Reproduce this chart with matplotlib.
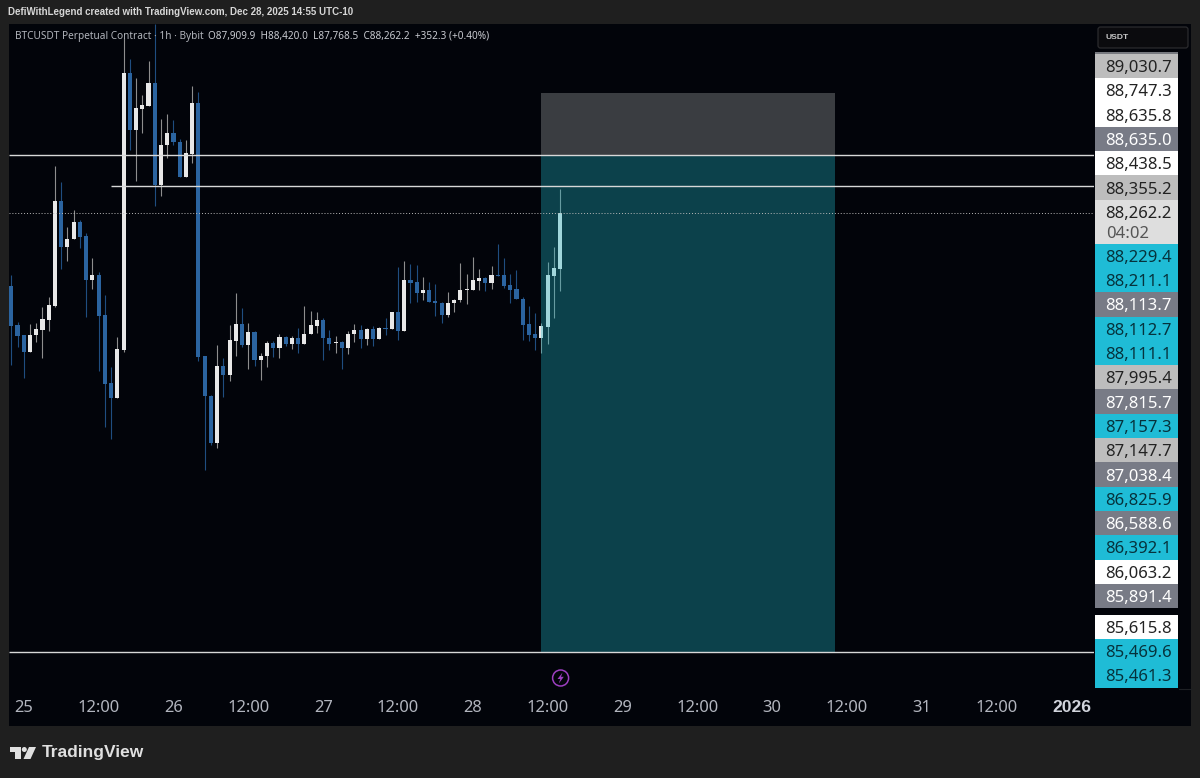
# BTCUSDT 1h chart with long position box and stacked price labels
import matplotlib
matplotlib.use("Agg")
import matplotlib.pyplot as plt
from matplotlib.patches import Circle, FancyBboxPatch, Polygon, Rectangle

WIDTH, HEIGHT = 1200, 778

# ---------------------------------------------------------------------------
# Data
# ---------------------------------------------------------------------------
opens = [87802, 87550, 87486, 87382, 87488, 87520, 87585, 87673, 88344, 88047,
         88098, 88210, 88119, 87838, 87868, 87614, 87182, 87085, 87392, 89155,
         88794, 88928, 88947, 89095, 88444, 88696, 88775, 88719, 88496, 88641,
         88968, 87354, 87101, 86802, 87292, 87233, 87452, 87556, 87424, 87507,
         87329, 87356, 87437, 87403, 87475, 87429, 87469, 87431, 87492, 87545,
         87582, 87471, 87437, 87443, 87405, 87492, 87520, 87463, 87526, 87463,
         87531, 87526, 87633, 87515, 87836, 87824, 87754, 87773, 87705, 87692,
         87614, 87690, 87709, 87775, 87775, 87834, 87853, 87819, 87872, 87872,
         87805, 87779, 87719, 87556, 87492, 87467, 87541, 87866, 87909.9]
highs = [87870, 87571, 87488, 87556, 87563, 87664, 87728, 88566, 88465, 88174,
         88284, 88221, 88140, 87977, 87891, 87743, 87286, 87473, 89380, 89246,
         89123, 89017, 89233, 89469, 88862, 88896, 88858, 88735, 88730, 89074,
         89038, 87354, 87106, 87424, 87340, 87552, 87754, 87658, 87563, 87514,
         87371, 87452, 87452, 87494, 87482, 87482, 87531, 87673, 87641, 87633,
         87594, 87520, 87484, 87450, 87514, 87560, 87552, 87535, 87545, 87541,
         87594, 87633, 87923, 87961, 87940, 87934, 87856, 87824, 87813, 87700,
         87764, 87715, 87949, 87877, 87983, 87908, 87859, 87928, 88068, 87977,
         87877, 87902, 87732, 87673, 87626, 87563, 87955, 88047, 88420.0]
lows = [87297, 87410, 87212, 87382, 87445, 87343, 87514, 87664, 87910, 87957,
        88098, 88040, 87605, 87779, 87261, 86904, 86824, 87085, 87382, 88667,
        88471, 88773, 88947, 88310, 88373, 88614, 88698, 88494, 88494, 88582,
        87324, 86628, 86787, 86770, 87091, 87197, 87356, 87410, 87273, 87291,
        87201, 87286, 87350, 87343, 87418, 87397, 87371, 87431, 87492, 87503,
        87329, 87392, 87375, 87271, 87367, 87445, 87407, 87424, 87418, 87463,
        87488, 87526, 87456, 87515, 87690, 87700, 87711, 87696, 87611, 87566,
        87605, 87636, 87700, 87686, 87775, 87775, 87770, 87779, 87866, 87786,
        87690, 87715, 87456, 87450, 87392, 87371, 87431, 87598, 87768.5]
closes = [87545, 87482, 87382, 87490, 87526, 87590, 87679, 88344, 88047, 88100,
          88210, 88110, 87838, 87868, 87609, 87178, 87085, 87397, 89155, 88794,
          88932, 88953, 89095, 88444, 88698, 88773, 88716, 88496, 88645, 88968,
          87350, 87101, 86802, 87292, 87233, 87456, 87556, 87424, 87507, 87329,
          87356, 87437, 87403, 87475, 87429, 87469, 87431, 87494, 87550, 87582,
          87467, 87431, 87443, 87405, 87496, 87520, 87463, 87528, 87463, 87533,
          87524, 87633, 87514, 87838, 87819, 87756, 87773, 87700, 87690, 87615,
          87694, 87711, 87773, 87781, 87836, 87853, 87819, 87872, 87866, 87798,
          87775, 87715, 87552, 87486, 87467, 87545, 87872, 87913, 88262.2]

tick_positions = [2, 14, 26, 38, 50, 62, 74, 86, 98, 110, 122, 134, 146, 158, 170]
tick_labels = ["25", "12:00", "26", "12:00", "27", "12:00", "28", "12:00",
               "29", "12:00", "30", "12:00", "31", "12:00", "2026"]

target_price = 89030.7
entry_price = 88635.0
level_price = 88438.5
last_price = 88262.2
stop_price = 85469.6
box_start, box_end = 85, 132
level_start = 16

scale_labels = ["89,030.7", "88,747.3", "88,635.8", "88,635.0", "88,438.5",
                "88,355.2", "88,262.2", "88,229.4", "88,211.1", "88,113.7",
                "88,112.7", "88,111.1", "87,995.4", "87,815.7", "87,157.3",
                "87,147.7", "87,038.4", "86,825.9", "86,588.6", "86,392.1",
                "86,063.2", "85,891.4", "85,615.8", "85,469.6", "85,461.3"]
scale_kinds = ["silver", "white", "white", "gray", "white",
               "silver", "light", "cyan", "cyan", "gray",
               "cyan", "cyan", "silver", "gray", "cyan",
               "silver", "gray", "cyan", "gray", "cyan",
               "white", "gray", "white", "cyan", "cyan"]

# ---------------------------------------------------------------------------
# Style
# ---------------------------------------------------------------------------
FRAME = "#1f1f1f"
PANE = "#02040a"
UP = "#e8e8e8"
UP_WICK = "#8e8e8e"
DOWN = "#2b64a0"
DOWN_WICK = "#1f4d80"
BOLD_FONT = "Liberation Sans"
LABEL_FILL = {"silver": "#bdbdbd", "white": "#ffffff", "gray": "#787b86",
              "light": "#dedede", "cyan": "#1fbcd6"}
LABEL_TEXT = {"silver": "#222222", "white": "#222222", "gray": "#ffffff",
              "light": "#222222", "cyan": "#06323c"}

plt.rcParams["font.family"] = ["Noto Sans", "DejaVu Sans"]


def px_axes(fig, left, top, right, bottom):
    return fig.add_axes([left / WIDTH, 1 - bottom / HEIGHT,
                         (right - left) / WIDTH, (bottom - top) / HEIGHT])


def draw_chrome(ax):
    """Frame, pane, header text, logo and the stacked price labels."""
    ax.set_xlim(0, WIDTH)
    ax.set_ylim(HEIGHT, 0)
    ax.axis("off")
    ax.add_patch(Rectangle((0, 0), WIDTH, HEIGHT, color=FRAME, lw=0))
    ax.add_patch(Rectangle((9, 24), 1182, 702, color=PANE, lw=0))
    ax.plot([1179, 1191], [688.5, 688.5], color="#1e2024", lw=0.8)

    ax.text(8, 12, "DefiWithLegend created with TradingView.com, Dec 28, 2025 14:55 UTC-10",
            color="#d6d6d6", fontsize=7.0, family=BOLD_FONT, fontweight="bold", va="center")

    # USDT button
    ax.add_patch(FancyBboxPatch((1098, 27), 90, 21, boxstyle="round,pad=0,rounding_size=2.5",
                                fc="#0b0b0e", ec="#2b2b2e", lw=0.9))
    ax.text(1105, 37.5, "USDT", color="#c8c8c8", fontsize=6.1, family=BOLD_FONT, fontweight="bold", va="center")

    # stacked labels, the countdown row is taller
    centre = 66
    for label, kind in zip(scale_labels, scale_kinds):
        if label == "85,615.8":
            centre += 6.5
        tall = kind == "light"
        height = 44 if tall else 24.3
        top = centre - 12.15
        ax.add_patch(Rectangle((1095, top), 83, height, color=LABEL_FILL[kind], lw=0))
        ax.text(1172, centre, label, color=LABEL_TEXT[kind], fontsize=12, ha="right", va="center_baseline")
        if tall:
            ax.text(1106, centre + 19.7, "04:02", color="#555555", fontsize=12, va="center_baseline")
        centre += height

    ax.add_patch(Rectangle((1095, 52), 83, 2, color="#77797f", lw=0))

    # TradingView logo
    ax.add_patch(Polygon([(10, 747), (21, 747), (21, 759), (15, 759), (15, 752), (10, 752)],
                         closed=True, fc="#e0e0e0", lw=0))
    ax.add_patch(Circle((24.3, 749.5), 2.5, fc="#e0e0e0", lw=0))
    ax.add_patch(Polygon([(29, 747), (36, 747), (30.5, 759), (23.5, 759)],
                         closed=True, fc="#e0e0e0", lw=0))
    ax.text(42, 752.5, "TradingView", color="#e0e0e0", fontsize=12.5, family=BOLD_FONT,
            fontweight="bold", va="center")

    # lightning marker under the last bars
    ax.add_patch(Circle((560.6, 678), 8, fc="none", ec="#9c3fc0", lw=1.1))
    ax.add_patch(Polygon([(562.5, 672.5), (557.5, 679), (560.3, 679), (558.8, 683.5),
                          (563.8, 676.8), (561, 676.8)], closed=True, fc="#9c3fc0", lw=0))


def draw_candles(ax):
    xs = range(len(opens))
    up = [c >= o for o, c in zip(opens, closes)]
    wick_colors = [UP_WICK if u else DOWN_WICK for u in up]
    body_colors = [UP if u else DOWN for u in up]
    ax.vlines(xs, lows, highs, colors=wick_colors, linewidth=0.8, zorder=2)
    bodies = [abs(c - o) for o, c in zip(opens, closes)]
    bottoms = [min(o, c) for o, c in zip(opens, closes)]
    ax.bar(xs, bodies, bottom=bottoms, width=0.66, color=body_colors, linewidth=0, zorder=3)


def draw_position(ax):
    """Long position box, tinted over the candles, and the horizontal levels."""
    ax.add_patch(Rectangle((box_start, entry_price), box_end - box_start, target_price - entry_price,
                           fc="#a5aaaa", alpha=0.35, lw=0, zorder=4))
    ax.add_patch(Rectangle((box_start, stop_price), box_end - box_start, entry_price - stop_price,
                           fc="#1fb5c5", alpha=0.35, lw=0, zorder=4))
    left, right = ax.get_xlim()
    ax.hlines(entry_price, left, right, color="#d8d8d8", lw=1.0, zorder=5)
    ax.hlines(level_price, level_start, right, color="#d8d8d8", lw=1.0, zorder=5)
    ax.hlines(stop_price, left, right, color="#d8d8d8", lw=1.0, zorder=5)
    ax.hlines(last_price, left, right, color="#b8b8b8", lw=0.7, linestyle=(0, (1, 2)), zorder=5)


def main():
    fig = plt.figure(figsize=(WIDTH / 100, HEIGHT / 100), dpi=100)

    chrome = fig.add_axes([0, 0, 1, 1], zorder=0)
    draw_chrome(chrome)

    ax = px_axes(fig, 9, 24, 1094, 690)
    ax.set_zorder(1)
    ax.patch.set_alpha(0)
    for spine in ax.spines.values():
        spine.set_visible(False)
    ax.set_xlim(-0.37, 173.6)
    ax.set_ylim(85227, 89469)
    ax.yaxis.set_visible(False)

    draw_candles(ax)
    draw_position(ax)

    ax.set_xticks(tick_positions)
    ax.set_xticklabels(tick_labels, fontsize=11.9, color="#b2b5be")
    ax.tick_params(axis="x", length=0, pad=7.2)
    last_tick = ax.get_xticklabels()[-1]
    last_tick.set_family(BOLD_FONT)
    last_tick.set_fontweight("bold")
    last_tick.set_fontsize(12.6)
    last_tick.set_color("#d1d4dc")

    # legend sits on top of the wicks
    overlay = fig.add_axes([0, 0, 1, 1], zorder=2)
    overlay.set_xlim(0, WIDTH)
    overlay.set_ylim(HEIGHT, 0)
    overlay.axis("off")
    overlay.text(15, 36, "BTCUSDT Perpetual Contract · 1h · Bybit",
                 color="#b0b3ba", fontsize=7.25, va="center")
    overlay.text(208, 36, "O87,909.9  H88,420.0  L87,768.5  C88,262.2  +352.3 (+0.40%)",
                 color="#c8cad0", fontsize=7.2, va="center")

    fig.savefig("out.png", dpi=100, facecolor=FRAME)
    plt.close(fig)


if __name__ == "__main__":
    main()
